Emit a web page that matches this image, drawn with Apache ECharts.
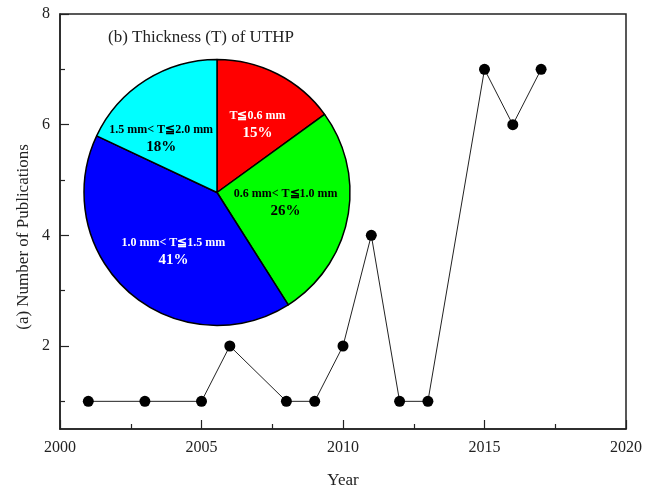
<!DOCTYPE html>
<html>
<head>
<meta charset="utf-8">
<script src="https://cdn.jsdelivr.net/npm/echarts@6/dist/echarts.min.js"></script>
<style>
html,body{margin:0;padding:0;background:#fff;}
#chart{width:659px;height:490px;}
</style>
</head>
<body>
<div id="chart"></div>
<script>
// Line data: publications per year
const years = [2001, 2003, 2005, 2006, 2008, 2009, 2010, 2011, 2012, 2013, 2015, 2016, 2017];
const publications = [1, 1, 1, 2, 1, 1, 2, 4, 1, 1, 7, 6, 7];
const yMajorTicks = [2, 4, 6, 8];
const yMinorTicks = [1, 3, 5, 7];

// Pie data: thickness distribution
const pieLabels = ['T≦0.6 mm', '0.6 mm< T≦1.0 mm', '1.0 mm< T≦1.5 mm', '1.5 mm< T≦2.0 mm'];
const pieValues = [15, 26, 41, 18];

// Styling (kept apart from data)
const pieColors = ['#ff0000', '#00ff00', '#0000ff', '#00ffff'];
const pieTextColors = ['#ffffff', '#000000', '#ffffff', '#000000'];
const labelNudges = [[5, 2], [-8, -4], [8, 1], [-14, 12]];

const serif = '"Liberation Serif", "Times New Roman", serif';
const chart = echarts.init(document.getElementById('chart'), null, {renderer: 'canvas'});

const pieData = pieLabels.map((n, i) => ({
  name: n, value: pieValues[i],
  itemStyle: {color: pieColors[i]},
  label: {color: pieTextColors[i], offset: labelNudges[i]}
}));

const option = {
  backgroundColor: '#fff',
  animation: false,
  grid: {left: 60, right: 33, top: 14, bottom: 61, containLabel: false, outerBoundsMode: 'none',
         show: true, borderColor: '#222', borderWidth: 1.5, backgroundColor: 'transparent'},
  xAxis: {
    type: 'value', min: 2000, max: 2020, interval: 5,
    name: 'Year', nameLocation: 'middle', nameGap: 43,
    nameTextStyle: {fontFamily: serif, fontSize: 17, color: '#222'},
    axisLine: {show: true, lineStyle: {color: '#222', width: 1.5}},
    axisTick: {show: true, inside: true, length: 9, lineStyle: {color: '#222', width: 1.2}},
    minorTick: {show: true, splitNumber: 2, length: 5, lineStyle: {color: '#222', width: 1.2}},
    axisLabel: {fontFamily: serif, fontSize: 16, color: '#222', margin: 11, formatter: v => String(v)},
    splitLine: {show: false}
  },
  yAxis: [{
    type: 'value', min: 0.5, max: 8,
    axisLine: {show: true, lineStyle: {color: '#222', width: 1.5}},
    axisTick: {show: true, inside: true, length: 9, customValues: yMajorTicks, lineStyle: {color: '#222', width: 1.2}},
    axisLabel: {fontFamily: serif, fontSize: 16, color: '#222', margin: 10, customValues: yMajorTicks},
    splitLine: {show: false}
  }, {
    type: 'value', min: 0.5, max: 8, position: 'left',
    axisLine: {show: false},
    axisTick: {show: true, inside: true, length: 5, customValues: yMinorTicks, lineStyle: {color: '#222', width: 1.2}},
    axisLabel: {show: false},
    splitLine: {show: false}
  }],
  graphic: [{
    type: 'text', x: 24, y: 237, rotation: Math.PI / 2,
    style: {text: '(a) Number of Publications', font: '17px ' + serif, fill: '#222', align: 'center', verticalAlign: 'middle'}
  }, {
    type: 'text', x: 108, y: 38,
    style: {text: '(b) Thickness (T) of UTHP', font: '17px ' + serif, fill: '#222', align: 'left', verticalAlign: 'middle'}
  }],
  series: [{
    type: 'line',
    data: years.map((y, i) => [y, publications[i]]),
    symbol: 'circle', symbolSize: 11,
    itemStyle: {color: '#000'},
    lineStyle: {color: '#222', width: 1},
    z: 2
  }, {
    type: 'pie',
    center: [217, 192.5], radius: [0, 133],
    startAngle: 90, clockwise: true,
    avoidLabelOverlap: false,
    data: pieData,
    itemStyle: {borderColor: '#000', borderWidth: 1.5},
    label: {show: false},
    labelLine: {show: false},
    z: 5
  }, {
    type: 'pie',
    center: [217, 192.5], radius: [0, 150],
    startAngle: 90, clockwise: true,
    silent: true,
    avoidLabelOverlap: false,
    data: pieData.map(d => Object.assign({}, d, {itemStyle: {color: 'rgba(0,0,0,0)'}})),
    itemStyle: {borderWidth: 0},
    labelLayout: {hideOverlap: false},
    label: {
      show: true, position: 'inside', overflow: 'none',
      formatter: p => p.name + '\n{p|' + p.value + '%}',
      fontFamily: serif, fontWeight: 'bold', fontSize: 12, lineHeight: 16,
      rich: {p: {fontFamily: serif, fontWeight: 'bold', fontSize: 15, lineHeight: 18}}
    },
    labelLine: {show: false},
    z: 6
  }]
};
chart.setOption(option);
</script>
</body>
</html>
